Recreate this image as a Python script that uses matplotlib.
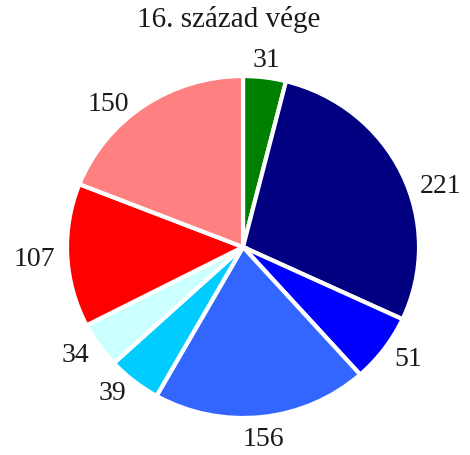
import numpy as np
import matplotlib.pyplot as plt

# adatok
ertekek = [31, 221, 51, 156, 39, 34, 107, 150]
cimkek = [str(v) for v in ertekek]
szinek = ['#008000', '#000080', '#0000ff', '#3366ff',
          '#00ccff', '#ccffff', '#ff0000', '#ff8080']

plt.rcParams['font.family'] = ['Liberation Serif', 'DejaVu Serif']

fig = plt.figure(figsize=(4.7, 4.55), dpi=100)
# a kép kicsit össze van nyomva függőlegesen, ezért nincs egyenlő arány
ax = fig.add_axes([0.1426, 0.0813, 0.7489, 0.7516])
szeletek, _ = ax.pie(ertekek, colors=szinek, startangle=90, counterclock=False,
                     radius=1.0, wedgeprops={'edgecolor': 'white', 'linewidth': 3})
ax.set_xlim(-1, 1)
ax.set_ylim(-1, 1)
ax.set_aspect('auto')

# feliratok a szeletek mellett
eltolas = {'221': -5, '150': 3}
for sz, c in zip(szeletek, cimkek):
    szog = (sz.theta1 + sz.theta2) / 2 + eltolas.get(c, 0)
    x = np.cos(np.radians(szog))
    y = np.sin(np.radians(szog))
    if abs(x) < 0.3:
        ha = 'center'
        va = 'baseline' if y > 0 else 'top'
        d = 1.06
    else:
        ha = 'left' if x > 0 else 'right'
        va = 'center_baseline'
        d = 1.07
    ax.text(d * x, d * y, c, ha=ha, va=va, fontsize=20, color='#1a1a1a')

fig.text(0.487, 0.9407, '16. század vége', ha='center', va='baseline',
         fontsize=21, color='#1a1a1a')

fig.savefig('out.png', dpi=100)
